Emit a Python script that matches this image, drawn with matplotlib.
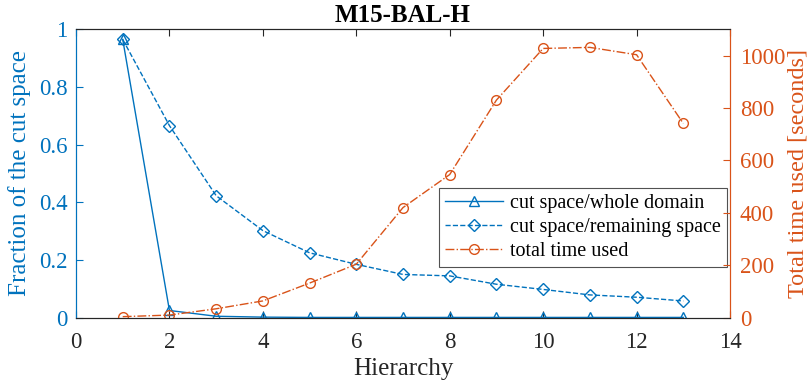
import matplotlib
matplotlib.use("Agg")
import matplotlib.pyplot as plt

plt.rcParams['font.family'] = ['Liberation Serif', 'DejaVu Serif']
plt.rcParams['mathtext.fontset'] = 'stix'

hierarchy = [1, 2, 3, 4, 5, 6, 7, 8, 9, 10, 11, 12, 13]
cut_whole = [0.965, 0.025, 0.005, 0.002, 0.001, 0.001, 0.001, 0.001, 0.001, 0.001, 0.001, 0.001, 0.001]
cut_remaining = [0.965, 0.666, 0.423, 0.302, 0.225, 0.185, 0.150, 0.145, 0.116, 0.098, 0.079, 0.071, 0.058]
time_used = [4, 10, 34, 64, 132, 204, 420, 546, 830, 1027, 1031, 1003, 741]

blue = '#0072BD'
orange = '#D95319'
dark = '#262626'

fig = plt.figure(figsize=(8.11, 3.82), dpi=100)
ax = fig.add_axes([76/811, 1-317.7/382, 654/811, 288.4/382])
ax2 = ax.twinx()

l1, = ax.plot(hierarchy, cut_whole, '-', color=blue, marker='^', markersize=7.5,
              markerfacecolor='none', markeredgewidth=1.0, linewidth=1.0,
              label='cut space/whole domain')
l2, = ax.plot(hierarchy, cut_remaining, '--', color=blue, marker='D', markersize=6,
              markerfacecolor='none', markeredgewidth=1.0, linewidth=1.0,
              label='cut space/remaining space')
l3, = ax2.plot(hierarchy, time_used, '-.', color=orange, marker='o', markersize=7,
               markerfacecolor='none', markeredgewidth=1.0, linewidth=1.0,
               label='total time used')

ax.set_xlim(0, 14)
ax.set_ylim(0, 1)
ax2.set_ylim(0, 1100)
ax.set_xticks(range(0, 15, 2))
ax.set_yticks([0, 0.2, 0.4, 0.6, 0.8, 1])
ax.set_yticklabels(['0', '0.2', '0.4', '0.6', '0.8', '1'])
ax2.set_yticks([0, 200, 400, 600, 800, 1000])

ax.tick_params(axis='x', direction='in', top=True, length=5, labelsize=16.5, colors=dark, pad=10)
ax.tick_params(axis='y', direction='in', length=5, labelsize=16.5, colors=blue, pad=6)
ax2.tick_params(axis='y', direction='in', length=5, labelsize=16.5, colors=orange, pad=7)

for a in (ax, ax2):
    a.spines['top'].set_color(dark)
    a.spines['bottom'].set_color(dark)
    a.spines['left'].set_color(blue)
    a.spines['right'].set_color(orange)
    for s in a.spines.values():
        s.set_linewidth(0.8)

ax.set_xlabel('Hierarchy', fontsize=18, color=dark, labelpad=4)
ax.set_ylabel('Fraction of the cut space', fontsize=18, color=blue, labelpad=6)
ax2.set_ylabel('Total time used [seconds]', fontsize=17.5, color=orange, labelpad=2)
ax.set_title('M15-BAL-H', fontsize=18, fontweight='bold', color='black', pad=5)

leg = ax.legend(handles=[l1, l2, l3], loc='lower right', bbox_to_anchor=(0.996, 0.175),
                fontsize=14.5, frameon=True, fancybox=False, edgecolor=dark,
                borderpad=0.3, labelspacing=0.25, handlelength=2.9, handletextpad=0.35,
                borderaxespad=0)
leg.get_frame().set_linewidth(0.8)
leg.set_zorder(10)

fig.savefig('out.png', dpi=100)
